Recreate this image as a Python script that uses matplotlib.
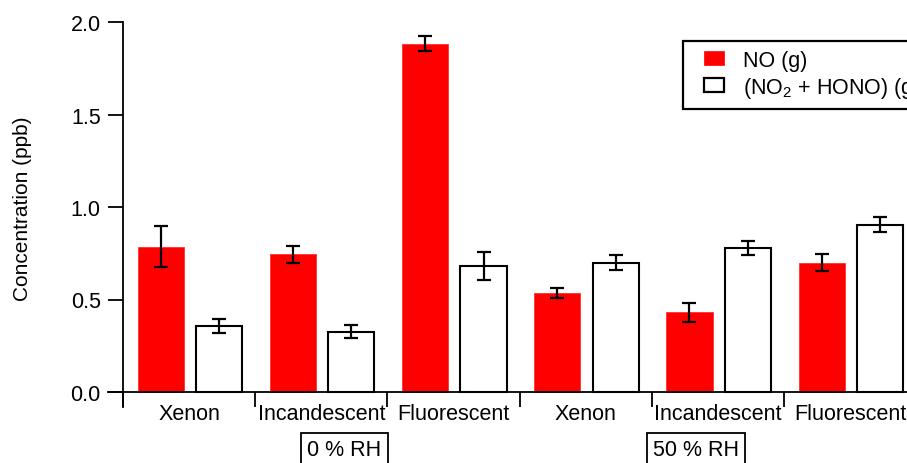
import matplotlib
matplotlib.use("Agg")
import matplotlib.pyplot as plt
import matplotlib.transforms as mtransforms
from matplotlib.patches import Patch, Rectangle
from matplotlib.legend_handler import HandlerPatch
import numpy as np

plt.rcParams['font.family'] = ['Liberation Sans', 'DejaVu Sans']
plt.rcParams['mathtext.default'] = 'regular'

# ---- data ----
lamps = ["Xenon", "Incandescent", "Fluorescent", "Xenon", "Incandescent", "Fluorescent"]
conditions = ["0 % RH", "50 % RH"]
no_vals = [0.785, 0.745, 1.883, 0.535, 0.43, 0.70]
no_err = [0.11, 0.046, 0.04, 0.025, 0.05, 0.045]
nox_vals = [0.355, 0.325, 0.68, 0.70, 0.78, 0.905]
nox_err = [0.038, 0.035, 0.075, 0.04, 0.038, 0.04]
series_labels = ["NO (g)", "(NO$_2$ + HONO) (g)"]

W, H = 907, 464
fig = plt.figure(figsize=(W / 100, H / 100), dpi=100)

gpx = 132.2          # pixels per group
x0px = 123           # pixel of x=0 (y axis)
ybot_px, ytop_px = 408, 23
ppu = 185.0          # pixels per ppb
xl = -(x0px - 108) / gpx
yl = -(ybot_px - 393) / ppu
ax_left = 108
ax_right = x0px + 6 * gpx
axw = ax_right - ax_left
ax = fig.add_axes([ax_left / W, (H - ybot_px) / H, axw / W, (ybot_px - ytop_px) / H])
ax.set_xlim(xl, 6)
ax.set_ylim(yl, 2.0)

idx = np.arange(len(lamps))
red_x = idx + 0.285
wht_x = idx + 0.727
bw = 0.35

ax.bar(red_x, no_vals, bw, color="#ff0000", edgecolor="#ff2020", linewidth=0.5, zorder=2)
ax.bar(wht_x, nox_vals, bw, color="white", edgecolor="black", linewidth=1.5, zorder=2)
ax.errorbar(red_x, no_vals, yerr=no_err, fmt="none", ecolor="black", elinewidth=1.6,
            capsize=5, capthick=1.6, zorder=3)
ax.errorbar(wht_x, nox_vals, yerr=nox_err, fmt="none", ecolor="black", elinewidth=1.6,
            capsize=5, capthick=1.6, zorder=3)

# spines
for s in ["top", "right"]:
    ax.spines[s].set_visible(False)
ax.spines["left"].set_position(("data", 0))
ax.spines["bottom"].set_position(("data", 0))
for s in ["left", "bottom"]:
    ax.spines[s].set_linewidth(1.3)
ax.spines["left"].set_bounds(yl, 2.0)

# y ticks
yt = [0.0, 0.5, 1.0, 1.5, 2.0]
ax.set_yticks(yt)
ax.set_yticklabels(["%.1f" % v for v in yt])
ax.tick_params(axis="y", direction="out", length=11, width=1.3, pad=5, labelsize=15.5)

# x ticks: group boundaries (major), labels at centres (minor)
ax.set_xticks(np.arange(0, 7))
ax.set_xticklabels([])
ax.tick_params(axis="x", which="major", direction="out", length=10.5, width=1.3)
ax.set_xticks(idx + 0.5, minor=True)
ax.set_xticklabels(lamps, minor=True)
ax.tick_params(axis="x", which="minor", length=0, pad=8, labelsize=15.5)

ax.set_ylabel("Concentration (ppb)", fontsize=15)
ax.yaxis.set_label_coords((32 - ax_left) / axw, 0.518)

# condition boxes
trans = mtransforms.blended_transform_factory(ax.transData, fig.transFigure)
cond_x = [(344.5 - x0px) / gpx, (696 - x0px) / gpx]
for cx, lab in zip(cond_x, conditions):
    ax.text(cx, (H - 451) / H, lab, transform=trans, ha="center", va="center", fontsize=15.5,
            bbox=dict(boxstyle="square,pad=0.3", facecolor="white", edgecolor="black", linewidth=1.3),
            clip_on=False)


def small_patch(legend, orig_handle, xdescent, ydescent, width, height, fontsize):
    pw = width * 0.62
    return Rectangle((-xdescent + width - pw, -ydescent), pw, height)


handles = [Patch(facecolor="#ff0000", edgecolor="#ff0000", linewidth=0.5),
           Patch(facecolor="white", edgecolor="black", linewidth=1.6)]
leg = fig.legend(handles, series_labels, loc="upper left",
                 bbox_to_anchor=(683 / W, 1 - 42 / H), fontsize=15.5,
                 frameon=True, fancybox=False, edgecolor="black", framealpha=1,
                 handlelength=1.5, handleheight=0.6, handletextpad=0.87,
                 borderpad=0.4, labelspacing=0.2, borderaxespad=0,
                 handler_map={Patch: HandlerPatch(patch_func=small_patch)})
leg.get_frame().set_linewidth(1.6)

fig.savefig("out.png", dpi=100)
